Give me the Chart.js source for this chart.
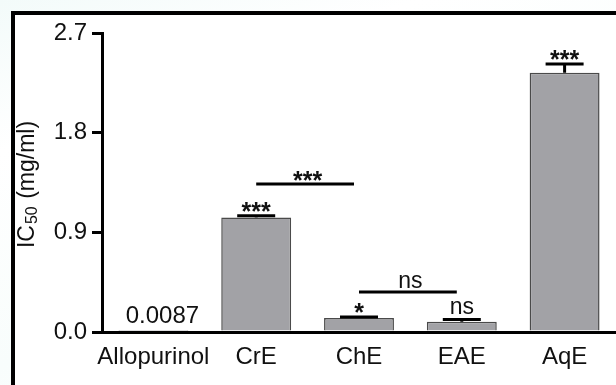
<!DOCTYPE html>
<html>
<head>
<meta charset="utf-8">
<script src="https://cdn.jsdelivr.net/npm/chart.js@4.4.1/dist/chart.umd.min.js"></script>
<style>
  html, body { margin: 0; padding: 0; width: 616px; height: 385px; overflow: hidden; }
  body { background: linear-gradient(160deg, #f3fbfa 0%, #ffffff 25%, #f8fdfc 60%, #ffffff 100%); position: relative; }
  #frame { position: absolute; left: 11px; top: 11px; width: 700px; height: 500px;
           border: 4px solid #000; background: #fff; }
  #wrap { position: absolute; left: 0; top: 0; width: 616px; height: 385px; }
</style>
</head>
<body>
<div id="frame"></div>
<div id="wrap"><canvas id="c" width="616" height="385"></canvas></div>
<script>
// Xanthine oxidase inhibition, IC50 per extract
const categories = ['Allopurinol', 'CrE', 'ChE', 'EAE', 'AqE'];
const ic50 = [0.0087, 1.034, 0.126, 0.092, 2.34];
const errors = [0, 0.015, 0.01, 0.022, 0.08];
const significance = ['', '***', '*', 'ns', '***'];
const valueLabels = ['0.0087', '', '', '', ''];
const yTicks = [0.0, 0.9, 1.8, 2.7];
// pairwise comparisons: [from index, to index, bracket height, label]
const comparisons = [
  [1, 2, 1.336, '***'],
  [2, 3, 0.361, 'ns']
];

const FONT = 'Liberation Sans, Arial, sans-serif';

function drawSig(ctx, text, x, anchorY) {
  ctx.save();
  ctx.fillStyle = '#111';
  ctx.textAlign = 'center';
  ctx.textBaseline = 'alphabetic';
  if (text.indexOf('*') >= 0) {
    ctx.font = 'bold 25px ' + FONT;
    ctx.fillText(text, x, anchorY + 5);
  } else {
    ctx.font = '23px ' + FONT;
    ctx.fillText(text, x, anchorY - 4);
  }
  ctx.restore();
}

const annotations = {
  id: 'annotations',
  afterDatasetsDraw(chart) {
    const ctx = chart.ctx;
    const xs = chart.scales.x, ys = chart.scales.y;
    ctx.save();
    ctx.strokeStyle = '#000';
    ctx.lineWidth = 3;
    ctx.lineCap = 'butt';
    // error bars (upper half) with caps
    ic50.forEach((v, i) => {
      const x = xs.getPixelForValue(i);
      if (errors[i] > 0) {
        const yb = ys.getPixelForValue(v);
        const yt = ys.getPixelForValue(v + errors[i]);
        ctx.beginPath();
        ctx.moveTo(x, yb); ctx.lineTo(x, yt);
        ctx.moveTo(x - 19, yt); ctx.lineTo(x + 19, yt);
        ctx.stroke();
        if (significance[i]) drawSig(ctx, significance[i], x, yt - 1);
      }
      if (valueLabels[i]) {
        ctx.save();
        ctx.fillStyle = '#111';
        ctx.font = '24px ' + FONT;
        ctx.textAlign = 'center';
        ctx.textBaseline = 'alphabetic';
        ctx.fillText(valueLabels[i], x + 9, ys.getPixelForValue(v) - 8);
        ctx.restore();
      }
    });
    // comparison brackets
    comparisons.forEach(([a, b, h, label]) => {
      const xa = xs.getPixelForValue(a);
      const xb = xs.getPixelForValue(b);
      const y = ys.getPixelForValue(h);
      ctx.beginPath();
      ctx.moveTo(xa, y); ctx.lineTo(xb - 5, y);
      ctx.stroke();
      drawSig(ctx, label, (xa + xb) / 2, y);
    });
    ctx.restore();

    // y-axis title with subscript
    ctx.save();
    ctx.translate(28, (chart.chartArea.top + chart.chartArea.bottom) / 2 + 2);
    ctx.rotate(-Math.PI / 2);
    ctx.fillStyle = '#111';
    ctx.textBaseline = 'middle';
    ctx.textAlign = 'left';
    const big = '23px ' + FONT, small = '16px ' + FONT;
    ctx.font = big; const w1 = ctx.measureText('IC').width;
    ctx.font = small; const w2 = ctx.measureText('50').width + 2;
    ctx.font = big; const w3 = ctx.measureText(' (mg/ml)').width;
    let x0 = -(w1 + w2 + w3) / 2;
    ctx.font = big; ctx.fillText('IC', x0, 0);
    ctx.font = small; ctx.fillText('50', x0 + w1 + 1, 5);
    ctx.font = big; ctx.fillText(' (mg/ml)', x0 + w1 + w2, 0);
    ctx.restore();
  }
};

new Chart(document.getElementById('c'), {
  type: 'bar',
  data: {
    labels: categories,
    datasets: [{
      data: ic50,
      backgroundColor: '#a2a2a6',
      borderColor: '#4a4a4a',
      borderWidth: 1.5,
      borderSkipped: 'bottom',
      barPercentage: 0.68,
      categoryPercentage: 1
    }]
  },
  options: {
    responsive: false,
    animation: false,
    devicePixelRatio: 1,
    layout: { padding: { top: 33, right: 0, left: 0, bottom: 0 } },
    plugins: { legend: { display: false }, tooltip: { enabled: false }, title: { display: false } },
    scales: {
      x: {
        grid: { display: false, drawTicks: false },
        border: { display: true, color: '#000', width: 3 },
        ticks: { color: '#111', font: { family: FONT, size: 24 }, padding: 11, maxRotation: 0, autoSkip: false },
        afterFit(s) { s.height = 53; }
      },
      y: {
        min: 0, max: 2.7,
        afterBuildTicks(s) { s.ticks = yTicks.map(v => ({ value: v })); },
        grid: { drawOnChartArea: false, drawTicks: true, tickLength: 10, color: '#000', lineWidth: 3 },
        border: { display: true, color: '#000', width: 3 },
        ticks: { color: '#111', font: { family: FONT, size: 24 }, padding: 5,
                 callback: v => Number(v).toFixed(1) },
        afterFit(s) { s.width = 102; }
      }
    }
  },
  plugins: [annotations]
});
</script>
</body>
</html>
